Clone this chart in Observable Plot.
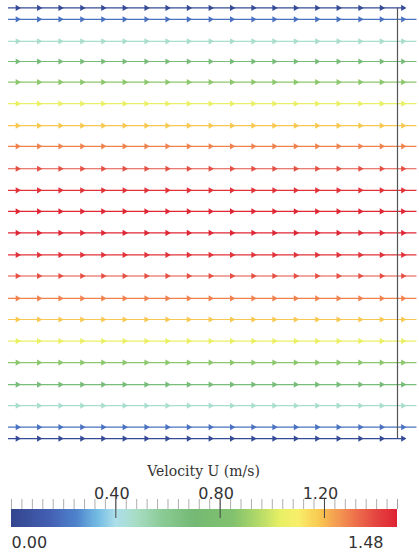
<!DOCTYPE html>
<html>
<head>
<meta charset="utf-8">
<script src="https://cdn.jsdelivr.net/npm/d3@7"></script>
<script src="https://cdn.jsdelivr.net/npm/@observablehq/plot@0.6"></script>
<style>
  html, body { margin: 0; padding: 0; background: #fff; }
  #chart svg { display: block; }
</style>
</head>
<body>
<div id="chart"></div>
<script>
// Streamline heights (fraction of channel height, bottom = 0)
const lineY = [0.990, 0.964, 0.914, 0.868, 0.821, 0.772, 0.722, 0.675, 0.624, 0.575, 0.527,
               0.478, 0.428, 0.380, 0.329, 0.281, 0.232, 0.183, 0.133, 0.085, 0.036, 0.010];
const lineU = [0.03, 0.20, 0.46, 0.68, 0.87, 1.04, 1.18, 1.29, 1.38, 1.44, 1.47,
               1.47, 1.44, 1.38, 1.29, 1.18, 1.04, 0.87, 0.68, 0.46, 0.20, 0.03];
// Where each streamline ends (fraction of channel length, outlet = 1)
const lineEnd = [1.02, 1.05, 1.05, 1.05, 1.05, 1.05, 1.05, 1.05, 1.05, 1.05, 1.05,
                 1.05, 1.05, 1.05, 1.05, 1.05, 1.05, 1.05, 1.05, 1.05, 1.05, 1.02];
// Arrow positions along each streamline
const arrowX = [0.023, 0.078, 0.133, 0.189, 0.243, 0.298, 0.354, 0.408, 0.463, 0.519,
                0.574, 0.629, 0.683, 0.738, 0.793, 0.848, 0.904, 0.959, 1.014];
// Colour map of the colour bar
const cmapStops  = [0.00, 0.15, 0.25, 0.33, 0.40, 0.48, 0.58, 0.70, 0.85, 0.95, 1.03, 1.10, 1.18, 1.25, 1.33, 1.40, 1.48];
const cmapColors = ["#33468e", "#4460b4", "#4f84cc", "#74bce4", "#acdfea", "#a8dcc4", "#8acb94", "#74b974",
                    "#82c26e", "#b4da68", "#e8f064", "#f8ee6a", "#f8c850", "#f49a52", "#ec6a4a", "#e44440", "#de2232"];
// Colour bar ticks and labels
const barMin = 0.00, barMax = 1.48;
const majorTicks = [0.40, 0.80, 1.20];
const barTitle = "Velocity U (m/s)";
const outletX = 1.0;

const lines = lineY.map((y, i) => ({y, u: lineU[i], end: lineEnd[i]}));
const arrows = lines.flatMap(l => arrowX.filter(x => x < l.end).map(x => ({x, y: l.y, u: l.u})));
const colorOpts = {type: "linear", domain: cmapStops, range: cmapColors, interpolate: "rgb"};

const field = Plot.plot({
  width: 419, height: 450,
  marginLeft: 8, marginRight: 22, marginTop: 3, marginBottom: 7.5,
  x: {domain: [0, 1], axis: null},
  y: {domain: [0, 1], axis: null},
  color: colorOpts,
  marks: [
    Plot.ruleY(lines, {y: "y", x1: 0, x2: "end", stroke: "u", strokeWidth: 1.2}),
    Plot.ruleX([outletX], {y1: lineY[lineY.length - 1], y2: lineY[0], stroke: "#555", strokeWidth: 1.2}),
    Plot.dot(arrows, {x: "x", y: "y", fill: "u", symbol: "triangle", rotate: 90, r: 2.3, stroke: "none"})
  ]
});

const minorTicks = d3.range(0, 38).map(i => +(i * 0.04).toFixed(2)).concat([barMax]);
const steps = d3.range(0, 370).map(i => i * 0.004);

const bar = Plot.plot({
  width: 419, height: 103,
  marginLeft: 11, marginRight: 22, marginTop: 0, marginBottom: 0,
  x: {domain: [barMin, barMax], axis: null},
  y: {type: "identity", axis: null},
  color: colorOpts,
  style: {fontFamily: "'DejaVu Sans', sans-serif", color: "#333"},
  marks: [
    Plot.rect(steps, {x1: d => d, x2: d => Math.min(barMax, d + 0.008), y1: 59, y2: 77, fill: d => d, shapeRendering: "crispEdges"}),
    Plot.ruleX(minorTicks, {y1: 49, y2: 59, stroke: "#999", strokeWidth: 0.8}),
    Plot.ruleX(majorTicks, {y1: 49, y2: 68, stroke: "#444", strokeWidth: 1}),
    Plot.text(majorTicks, {x: d => d, y: 48, text: d => d.toFixed(2), dx: -4, lineAnchor: "bottom", fontSize: 16, fill: "#333"}),
    Plot.text([barMin], {x: d => d, y: 97, text: d => d.toFixed(2), textAnchor: "start", lineAnchor: "bottom", fontSize: 16, fill: "#333"}),
    Plot.text([barMax], {x: d => d, y: 97, text: d => d.toFixed(2), textAnchor: "end", dx: -14, lineAnchor: "bottom", fontSize: 16, fill: "#333"}),
    Plot.text([barTitle], {frameAnchor: "top", dx: -1, y: 25, text: d => d, lineAnchor: "bottom", fontSize: 14, fontFamily: "'DejaVu Serif', serif", fill: "#333"})
  ]
});

document.getElementById("chart").append(field, bar);
</script>
</body>
</html>
